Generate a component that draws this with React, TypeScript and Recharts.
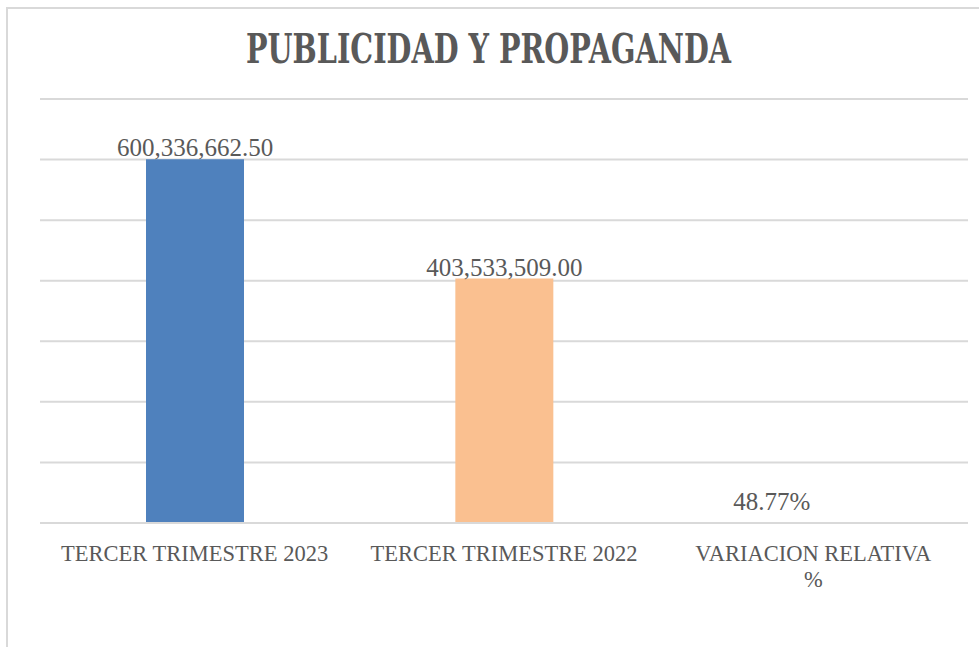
import { BarChart, Bar, XAxis, YAxis, CartesianGrid, Cell, LabelList } from "recharts";

const categories = ["TERCER TRIMESTRE 2023", "TERCER TRIMESTRE 2022", "VARIACION RELATIVA\n%"];
const values = [600336662.5, 403533509.0, 48.77];
const valueLabels = ["600,336,662.50", "403,533,509.00", "48.77%"];
const barColors = ["#4f81bd", "#fac090", "#9bbb59"];
const yTicks = [0, 100000000, 200000000, 300000000, 400000000, 500000000, 600000000, 700000000];

const data = categories.map((name, i) => ({ name, value: values[i], label: valueLabels[i] }));

const TEXT = "#595959";
const FONT = "'Liberation Serif', serif";

function CategoryTick(props: any) {
  const { x, y, payload } = props;
  const lines = String(payload.value).split("\n");
  return (
    <text x={x} y={y} textAnchor="middle" fill={TEXT} fontFamily={FONT} fontSize={22.5}>
      {lines.map((l, i) => (
        <tspan key={i} x={x} dy={i === 0 ? 38 : 26}>
          {l}
        </tspan>
      ))}
    </text>
  );
}

function ValueLabel(props: any) {
  const { x, y, width, height, value } = props;
  // near-zero bars: Excel put this label a bit higher and to the left
  const flat = Math.abs(height) < 2;
  return (
    <text
      x={x + width / 2 + (flat ? -42 : 0)}
      y={y - (flat ? 13 : 3)}
      textAnchor="middle"
      fill={TEXT}
      fontFamily={FONT}
      fontSize={25}
    >
      {value}
    </text>
  );
}

export default function App() {
  return (
    <div style={{ position: "absolute", left: 0, top: 0, width: 979, height: 647, overflow: "hidden", background: "#fff" }}>
      <div
        style={{
          position: "absolute",
          left: 6,
          top: 7,
          width: 1000,
          height: 700,
          borderLeft: "2px solid #d9d9d9",
          borderTop: "2px solid #d9d9d9",
        }}
      />
      <svg width={979} height={90} style={{ position: "absolute", left: 0, top: 0 }}>
        <text
          x={488.5}
          y={63}
          textAnchor="middle"
          fill={TEXT}
          fontFamily="'DejaVu Serif', serif"
          fontWeight="bold"
          fontSize={41}
          textLength={485}
          lengthAdjust="spacingAndGlyphs"
        >
          PUBLICIDAD Y PROPAGANDA
        </text>
      </svg>
      <div style={{ position: "absolute", left: 0, top: 0 }}>
        <BarChart width={979} height={647} data={data} margin={{ top: 99, right: 11, bottom: 94, left: 40 }}>
          <CartesianGrid vertical={false} stroke="#d9d9d9" strokeWidth={2} />
          <YAxis hide domain={[0, 700000000]} ticks={yTicks} />
          <XAxis
            dataKey="name"
            height={30}
            axisLine={{ stroke: "#d9d9d9", strokeWidth: 2 }}
            tickLine={false}
            tickSize={0}
            tickMargin={0}
            interval={0}
            tick={<CategoryTick />}
          />
          <Bar dataKey="value" barSize={98} isAnimationActive={false}>
            {data.map((d, i) => (
              <Cell key={d.name} fill={barColors[i]} />
            ))}
            <LabelList dataKey="label" content={<ValueLabel />} />
          </Bar>
        </BarChart>
      </div>
    </div>
  );
}
